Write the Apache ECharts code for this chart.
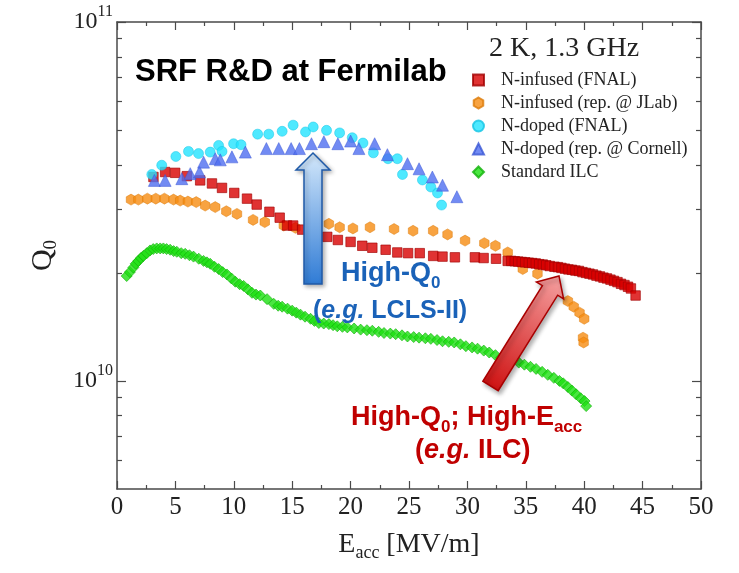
<!DOCTYPE html>
<html><head><meta charset="utf-8">
<script src="https://cdn.jsdelivr.net/npm/echarts@6/dist/echarts.min.js"></script>
<style>html,body{margin:0;padding:0;background:#fff}#c{width:739px;height:573px}</style>
</head><body><div id="c"></div>
<script>
// ---- data (E_acc [MV/m], Q0) ----
const seriesNames = ['N-infused (FNAL)', 'N-infused (rep. @ JLab)', 'N-doped (FNAL)', 'N-doped (rep. @ Cornell)', 'Standard ILC'];
const nInfusedFNAL = [
 [3.12,3.70e10],[4.12,3.82e10],[4.98,3.80e10],[5.98,3.72e10],[7.12,3.62e10],[8.13,3.55e10],[8.99,3.45e10],[10.04,3.34e10],
 [11.13,3.22e10],[11.96,3.10e10],[13.05,2.96e10],[13.93,2.85e10],[14.56,2.71e10],[15.08,2.71e10],[15.85,2.64e10],[16.95,2.57e10],
 [18.0,2.52e10],[18.91,2.47e10],[20.0,2.44e10],[21.0,2.38e10],[21.86,2.35e10],[23.0,2.32e10],[24.0,2.28e10],[24.92,2.27e10],
 [25.92,2.27e10],[27.07,2.23e10],[27.87,2.22e10],[28.93,2.21e10],[30.64,2.21e10],[31.39,2.20e10],[32.45,2.19e10],
 [33.45,2.16e10],[33.75,2.16e10],[34.05,2.155e10],[34.35,2.15e10],[34.65,2.145e10],[34.95,2.14e10],[35.25,2.135e10],[35.55,2.13e10],
 [35.85,2.125e10],[36.15,2.115e10],[36.45,2.11e10],[36.75,2.10e10],[37.05,2.09e10],[37.45,2.08e10],[37.75,2.075e10],[38.05,2.065e10],
 [38.35,2.055e10],[38.65,2.045e10],[38.95,2.04e10],[39.25,2.03e10],[39.55,2.025e10],[39.85,2.01e10],[40.15,2.0e10],[40.45,1.99e10],
 [40.75,1.98e10],[41.05,1.965e10],[41.35,1.955e10],[41.65,1.94e10],[41.95,1.93e10],[42.25,1.915e10],[42.55,1.90e10],[42.85,1.885e10],
 [43.15,1.865e10],[43.45,1.85e10],[43.75,1.83e10],[44.0,1.81e10],[44.4,1.73e10]
];
const nInfusedJLab = [
 [1.2,3.20e10],[1.83,3.20e10],[2.6,3.22e10],[3.32,3.22e10],[4.06,3.22e10],[4.84,3.20e10],[5.41,3.18e10],[6.07,3.16e10],
 [6.78,3.15e10],[7.55,3.08e10],[8.41,3.05e10],[9.36,2.97e10],[10.27,2.92e10],[11.65,2.81e10],[12.65,2.77e10],[14.28,2.71e10],
 [15.28,2.67e10],[18.14,2.74e10],[19.06,2.68e10],[20.2,2.66e10],[21.66,2.68e10],[23.72,2.65e10],[25.35,2.62e10],[27.07,2.62e10],
 [28.3,2.56e10],[29.8,2.46e10],[31.45,2.42e10],[32.4,2.38e10],[33.45,2.28e10],[34.74,2.05e10],[36.0,1.99e10],[38.6,1.67e10],
 [39.1,1.61e10],[39.6,1.55e10],[40.0,1.49e10],[39.9,1.32e10],[39.95,1.28e10]
];
const nDopedFNAL = [
 [2.98,3.76e10],[3.83,3.99e10],[5.04,4.22e10],[6.12,4.36e10],[6.98,4.30e10],[7.98,4.34e10],[8.7,4.53e10],[8.99,4.36e10],
 [9.98,4.58e10],[10.62,4.55e10],[12.04,4.87e10],[12.99,4.87e10],[14.14,4.96e10],[15.08,5.16e10],[16.14,4.94e10],[16.8,5.10e10],
 [17.94,4.99e10],[19.06,4.91e10],[20.14,4.76e10],[21.06,4.60e10],[21.95,4.32e10],[23.2,4.16e10],[24.0,4.16e10],[24.44,3.76e10],
 [26.15,3.63e10],[26.87,3.47e10],[27.44,3.34e10],[27.79,3.09e10]
];
const nDopedCornell = [
 [3.2,3.62e10],[4.12,3.62e10],[5.55,3.66e10],[6.27,3.78e10],[7.06,3.82e10],[7.41,4.07e10],[8.41,4.16e10],[8.84,4.13e10],
 [9.84,4.21e10],[10.99,4.34e10],[12.79,4.44e10],[13.85,4.44e10],[14.91,4.44e10],[15.62,4.44e10],[16.65,4.58e10],[17.71,4.64e10],
 [18.91,4.58e10],[20.0,4.66e10],[20.71,4.44e10],[22.06,4.58e10],[23.15,4.27e10],[24.87,4.03e10],[25.86,3.90e10],[27.0,3.70e10],
 [27.87,3.51e10],[29.1,3.26e10]
];
const standardILC = [
 [0.83,1.96e10],[1.1,2.01e10],[1.4,2.07e10],[1.6,2.12e10],[1.83,2.16e10],[2.05,2.20e10],[2.26,2.23e10],[2.55,2.27e10],
 [2.83,2.31e10],[3.1,2.33e10],[3.4,2.34e10],[3.7,2.34e10],[3.97,2.34e10],[4.25,2.33e10],[4.55,2.32e10],[4.85,2.30e10],
 [5.12,2.29e10],[5.5,2.27e10],[5.84,2.26e10],[6.2,2.24e10],[6.55,2.22e10],[7.0,2.19e10],[7.41,2.16e10],[7.7,2.14e10],
 [7.98,2.12e10],[8.35,2.08e10],[8.7,2.05e10],[9.05,2.01e10],[9.41,1.98e10],[9.8,1.93e10],[10.13,1.89e10],[10.5,1.86e10],
 [10.84,1.84e10],[11.2,1.80e10],[11.56,1.76e10],[11.9,1.74e10],[12.27,1.73e10],[12.85,1.69e10],[13.42,1.64e10],[13.8,1.62e10],
 [14.14,1.61e10],[14.6,1.59e10],[15.0,1.57e10],[15.35,1.55e10],[15.71,1.53e10],[16.1,1.51e10],[16.57,1.49e10],[16.9,1.47e10],
 [17.28,1.45e10],[17.7,1.445e10],[18.14,1.44e10],[18.5,1.43e10],[18.86,1.42e10],[19.3,1.415e10],[19.72,1.41e10],[20.3,1.40e10],
 [20.86,1.39e10],[21.4,1.385e10],[21.86,1.38e10],[22.4,1.37e10],[22.86,1.36e10],[23.4,1.355e10],[23.86,1.35e10],[24.4,1.34e10],
 [24.87,1.33e10],[25.4,1.325e10],[25.86,1.32e10],[26.4,1.315e10],[26.87,1.31e10],[27.4,1.30e10],[27.87,1.29e10],[28.4,1.285e10],
 [28.87,1.28e10],[29.4,1.265e10],[29.87,1.25e10],[30.4,1.24e10],[30.87,1.23e10],[31.4,1.215e10],[31.87,1.20e10],[32.4,1.18e10],
 [32.88,1.16e10],[33.4,1.15e10],[33.88,1.14e10],[34.4,1.125e10],[34.88,1.11e10],[35.4,1.095e10],[35.88,1.08e10],[36.4,1.06e10],
 [36.88,1.04e10],[37.4,1.02e10],[37.88,1.00e10],[38.2,0.985e10],[38.6,0.962e10],[38.95,0.94e10],[39.31,0.918e10],[39.7,0.895e10],
 [40.03,0.879e10],[40.17,0.851e10]
];
const yLabelValues = [1e10, 1e11];
const yMinorValues = [6e9,7e9,8e9,9e9,2e10,3e10,4e10,5e10,6e10,7e10,8e10,9e10];
const xRange = [0, 50];
const yRange = [5e9, 1e11];

// ---- chart ----
const chart = echarts.init(document.getElementById('c'), null, {renderer:'canvas'});
const serif = 'Liberation Serif';
const sans = 'Liberation Sans';
const axisColor = '#4a4a4a';
const ink = '#222';

function xAx(pos, labels) {
  return {
    type:'value', position:pos, min:xRange[0], max:xRange[1], interval:5,
    axisLine:{show:true, onZero:false, lineStyle:{color:axisColor, width:1.5}},
    axisTick:{show:true, inside:true, length:8, lineStyle:{color:axisColor, width:1.2}},
    minorTick:{show:true, splitNumber:2, length:4, lineStyle:{color:axisColor, width:1.2}},
    splitLine:{show:false}, minorSplitLine:{show:false},
    axisLabel:{show:labels, margin:6, fontFamily:serif, fontSize:25, color:ink},
    name: labels ? '{e|E}{s|acc}{e| [MV/m]}' : '',
    nameLocation:'middle', nameGap:45,
    nameTextStyle:{rich:{
      e:{fontFamily:serif, fontSize:28, lineHeight:28, color:ink, verticalAlign:'bottom', padding:[0,0,3,0]},
      s:{fontFamily:serif, fontSize:18, lineHeight:18, color:ink, verticalAlign:'bottom'}}}
  };
}
function yAx(pos, major, labels) {
  return {
    type:'log', logBase:10, position:pos, min:yRange[0], max:yRange[1],
    axisLine:{show:major, onZero:false, lineStyle:{color:axisColor, width:1.5}},
    axisTick:{show:true, inside:true, length: major ? 9 : 5, customValues: major ? yLabelValues : yMinorValues,
      lineStyle:{color:axisColor, width:1.2}},
    splitLine:{show:false},
    axisLabel:{show:labels, customValues: yLabelValues, margin:4,
      formatter: v => '{b|10}{s|' + Math.round(Math.log10(v)) + '}',
      rich:{b:{fontFamily:serif, fontSize:24, color:ink, lineHeight:24, verticalAlign:'bottom'},
            s:{fontFamily:serif, fontSize:16, color:ink, lineHeight:16, verticalAlign:'bottom', padding:[0,0,14,0]}}},
    name: labels ? '{q|Q}{s|0}' : '', nameLocation:'middle', nameGap:56, nameRotate:90,
    nameTextStyle:{rich:{
      q:{fontFamily:serif, fontSize:30, lineHeight:30, color:ink, verticalAlign:'bottom', padding:[0,0,3,0]},
      s:{fontFamily:serif, fontSize:19, lineHeight:19, color:ink, verticalAlign:'bottom'}}}
  };
}

function arrow(tip, tail, shaftHalf, headHalf, headLen) {
  const dx = tip[0]-tail[0], dy = tip[1]-tail[1], L = Math.hypot(dx,dy);
  const ux = dx/L, uy = dy/L, nx = -uy, ny = ux;
  const bx = tip[0]-ux*headLen, by = tip[1]-uy*headLen;
  return [
    [tail[0]+nx*shaftHalf, tail[1]+ny*shaftHalf],
    [bx+nx*shaftHalf, by+ny*shaftHalf],
    [bx+nx*headHalf, by+ny*headHalf],
    tip,
    [bx-nx*headHalf, by-ny*headHalf],
    [bx-nx*shaftHalf, by-ny*shaftHalf],
    [tail[0]-nx*shaftHalf, tail[1]-ny*shaftHalf]
  ];
}

const hexagon = 'path://M0,-1L0.866,-0.5L0.866,0.5L0,1L-0.866,0.5L-0.866,-0.5Z';
const blue = '#1a62b8', red = '#c00000';
function annot(text, x, y, size, subSize, color) {
  return {type:'text', x:x, y:y, z:100, style:{text:text, verticalAlign:'middle',
    rich:{
      a:{fontFamily:sans, fontWeight:'bold', fontSize:size, lineHeight:size, fill:color, verticalAlign:'bottom', padding:[0,0,4,0]},
      i:{fontFamily:sans, fontWeight:'bold', fontStyle:'italic', fontSize:size, lineHeight:size, fill:color, verticalAlign:'bottom', padding:[0,0,4,0]},
      s:{fontFamily:sans, fontWeight:'bold', fontSize:subSize, lineHeight:subSize, fill:color, verticalAlign:'bottom'}}}};
}

const option = {
  backgroundColor:'#fff',
  animation:false,
  grid:{left:117, right:38, top:22, bottom:84, containLabel:false},
  xAxis:[xAx('bottom', true), xAx('top', false)],
  yAxis:[yAx('left', true, true), yAx('right', true, false), yAx('left', false, false), yAx('right', false, false)],
  legend:{
    orient:'vertical', left:467, top:66, itemWidth:11, itemHeight:11, itemGap:5, symbolKeepAspect:true,
    textStyle:{fontFamily:serif, fontSize:18, color:ink, padding:[0,0,0,12]},
    data:seriesNames
  },
  series:[
    {name:seriesNames[4], type:'scatter', data:standardILC, symbol:'diamond', symbolSize:11, symbolKeepAspect:true,
      itemStyle:{color:'#1de012', borderColor:'#12b00a', borderWidth:0.8}},
    {name:seriesNames[1], type:'scatter', data:nInfusedJLab, symbol:hexagon, symbolSize:11, symbolKeepAspect:true,
      itemStyle:{color:'#f68c12', borderColor:'#dc7a08', borderWidth:0.6}},
    {name:seriesNames[0], type:'scatter', data:nInfusedFNAL, symbol:'rect', symbolSize:9.5, symbolKeepAspect:true,
      itemStyle:{color:'#d80000', borderColor:'#a00000', borderWidth:0.8}},
    {name:seriesNames[2], type:'scatter', data:nDopedFNAL, symbol:'circle', symbolSize:10, symbolKeepAspect:true,
      itemStyle:{color:'#22e4ff', borderColor:'#15c4e4', borderWidth:0.6}},
    {name:seriesNames[3], type:'scatter', data:nDopedCornell, symbol:'triangle', symbolSize:12, symbolKeepAspect:true,
      itemStyle:{color:'#4f6ef0', borderColor:'#3a56d4', borderWidth:0.6}}
  ],
  graphic:[
    {type:'text', x:135, y:72, z:100, style:{text:'SRF R&D at Fermilab', fontFamily:sans, fontWeight:'bold', fontSize:31, fill:'#000', verticalAlign:'middle'}},
    {type:'text', x:489, y:49, z:100, style:{text:'2 K, 1.3 GHz', fontFamily:serif, fontSize:28, fill:ink, verticalAlign:'middle'}},
    {type:'polygon', z:90, shape:{points:arrow([313,153],[313,284],9,17,17)},
      style:{fill:{type:'linear', x:0, y:0, x2:0, y2:1, colorStops:[{offset:0,color:'#d4e8fb'},{offset:1,color:'#2f7bd5'}]},
        stroke:'#1f5aa8', lineWidth:1.5, shadowBlur:4, shadowOffsetX:2, shadowOffsetY:2, shadowColor:'rgba(0,0,0,0.3)'}},
    {type:'polygon', z:90, shape:{points:arrow([559,276],[490.5,386],9,16,17)},
      style:{fill:{type:'linear', x:1, y:0, x2:0, y2:1, colorStops:[{offset:0,color:'#f6a3a3'},{offset:1,color:'#cc0a0a'}]},
        stroke:'#a80000', lineWidth:1.5, shadowBlur:4, shadowOffsetX:2, shadowOffsetY:3, shadowColor:'rgba(0,0,0,0.3)'}},
    annot('{a|High-Q}{s|0}', 341, 278, 27, 17, blue),
    annot('{a|(}{i|e.g.}{a| LCLS-II)}', 313, 315, 25, 17, blue),
    annot('{a|High-Q}{s|0}{a|; High-E}{s|acc}', 351, 422, 27, 17, red),
    annot('{a|(}{i|e.g.}{a| ILC)}', 415, 455, 27, 17, red)
  ]
};
chart.setOption(option);
</script></body></html>
